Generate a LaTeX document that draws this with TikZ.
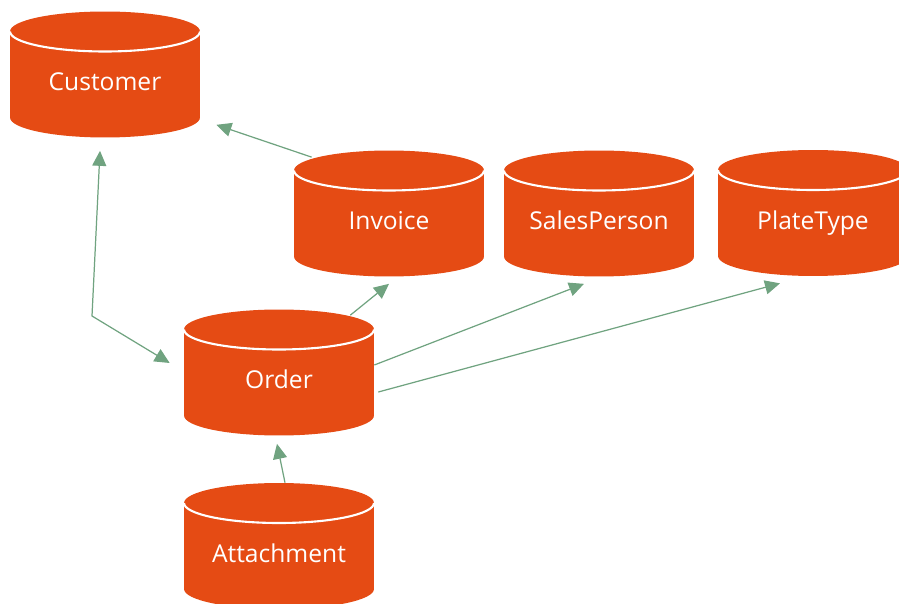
\documentclass[tikz,border=0pt]{standalone}
\usepackage{fontspec}
\setmainfont{Open Sans}
\usetikzlibrary{arrows.meta}

\definecolor{dborange}{RGB}{229,75,20}
\definecolor{linkgreen}{RGB}{112,163,128}

\tikzset{
  db/.style={rectangle, inner sep=0pt, minimum width=3.8cm, minimum height=2.52cm,
    text=white, font=\fontsize{14}{16}\selectfont, text height=0.7cm, text depth=0.04cm,
    path picture={
      \fill[dborange] ([yshift=-0.4cm]path picture bounding box.north west)
        -- ([yshift=0.4cm]path picture bounding box.south west)
        arc[start angle=180, end angle=360, x radius=1.9cm, y radius=0.4cm]
        -- ([yshift=-0.4cm]path picture bounding box.north east)
        arc[start angle=0, end angle=180, x radius=1.9cm, y radius=0.4cm] -- cycle;
      \draw[white, line width=1.2pt] ([yshift=-0.4cm]path picture bounding box.north west)
        arc[start angle=180, end angle=360, x radius=1.9cm, y radius=0.4cm];
    }},
  link/.style={draw=linkgreen, line width=0.7pt, -{Triangle[length=0.3cm, width=0.28cm]}},
}

\begin{document}
\begin{tikzpicture}[x=0.02cm, y=0.02cm]
\clip (0,0) rectangle (899,-604);

% \draw[color=gray,step=50,thin] (0,0) grid (899,-604);

\node[db] (cust)  at (105,-74.5)  {Customer};
\node[db] (inv)   at (389,-213.5) {Invoice};
\node[db] (sales) at (599,-213.5) {SalesPerson};
\node[db] (plate) at (813,-213)   {PlateType};
\node[db] (ord)   at (279,-372.5) {Order};
\node[db] (att)   at (279,-546)   {Attachment};

\coordinate (bend) at (92,-316);

\draw[link] ([shift={(18,-7)}]inv.north west) -- ([shift={(16,13)}]cust.south east);
\draw[link, {Triangle[length=0.3cm, width=0.28cm]}-{Triangle[length=0.3cm, width=0.28cm]}]
  ([shift={(-5,-13)}]cust.south) -- (bend) -- ([shift={(-14,9.5)}]ord.west);
\draw[link] ([shift={(-24,-6)}]ord.north east) -- ([shift={(0,-7)}]inv.south);
\draw[link] ([shift={(0,7.5)}]ord.east) -- ([shift={(-15,-7)}]sales.south);
\draw[link] ([shift={(4,-19.5)}]ord.east) -- ([shift={(-33,-7)}]plate.south);
\draw[link] ([shift={(6,0)}]att.north) -- ([shift={(-2,-8)}]ord.south);

\end{tikzpicture}
\end{document}
